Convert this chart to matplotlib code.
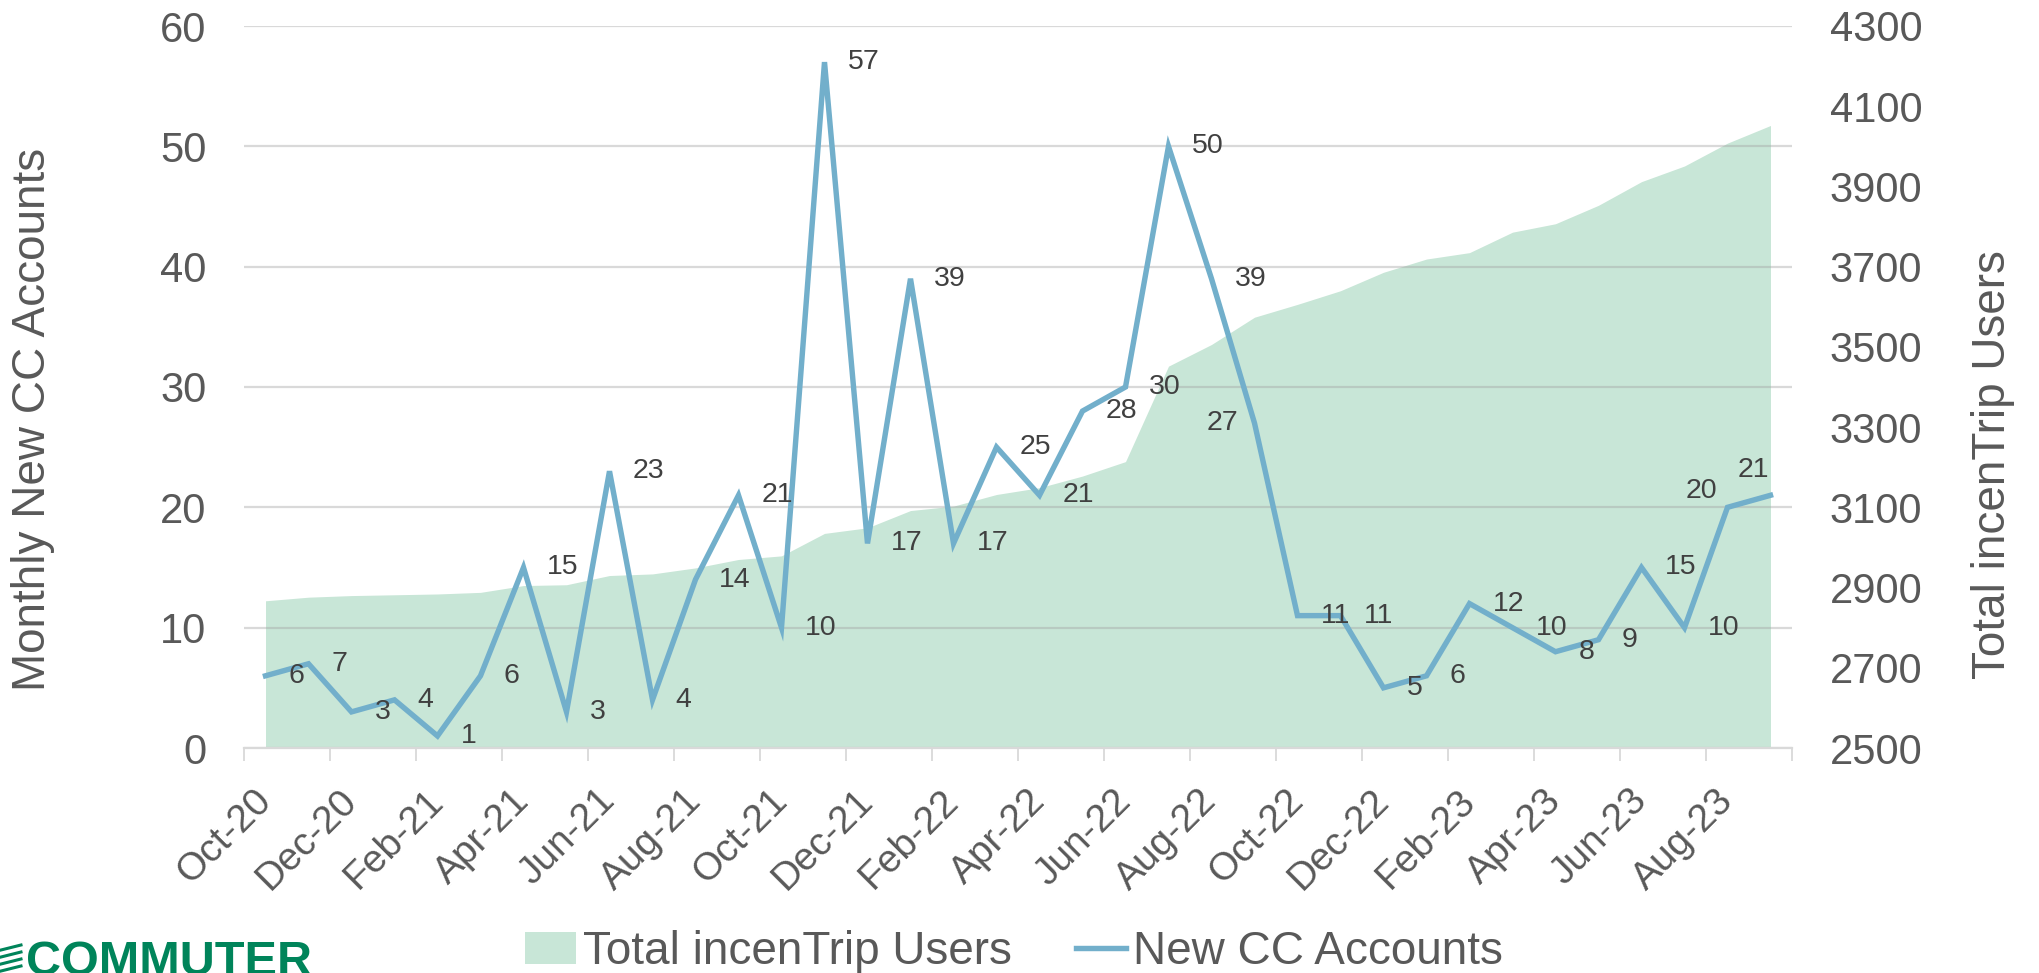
import numpy as np
import matplotlib
matplotlib.use("Agg")
import matplotlib.pyplot as plt
from matplotlib.patches import Patch
from matplotlib.lines import Line2D

# ---- data ----
months = ["Oct-20", "Nov-20", "Dec-20", "Jan-21", "Feb-21", "Mar-21", "Apr-21", "May-21",
          "Jun-21", "Jul-21", "Aug-21", "Sep-21", "Oct-21", "Nov-21", "Dec-21", "Jan-22",
          "Feb-22", "Mar-22", "Apr-22", "May-22", "Jun-22", "Jul-22", "Aug-22", "Sep-22",
          "Oct-22", "Nov-22", "Dec-22", "Jan-23", "Feb-23", "Mar-23", "Apr-23", "May-23",
          "Jun-23", "Jul-23", "Aug-23", "Sep-23"]
new_cc_accounts = [6, 7, 3, 4, 1, 6, 15, 3, 23, 4, 14, 21, 10, 57, 17, 39, 17, 25, 21, 28,
                   30, 50, 39, 27, 11, 11, 5, 6, 12, 10, 8, 9, 15, 10, 20, 21]
total_users = [2867, 2876, 2880, 2882, 2884, 2888, 2905, 2907, 2930, 2934, 2949, 2970,
               2979, 3035, 3049, 3092, 3103, 3132, 3149, 3178, 3214, 3452, 3506, 3574,
               3606, 3640, 3686, 3719, 3735, 3786, 3807, 3853, 3912, 3951, 4008, 4052]
left_ticks = [0, 10, 20, 30, 40, 50, 60]
right_ticks = [2500, 2700, 2900, 3100, 3300, 3500, 3700, 3900, 4100, 4300]

LINE_C = "#72AFCB"
AREA_C = "#C8E6D7"
TXT_C = "#595959"
LBL_C = "#404040"
GRID_C = "#D9D9D9"
FONT = ["Liberation Sans", "DejaVu Sans"]
plt.rcParams["font.family"] = FONT

W, H, DPI = 2039, 973, 100
fig = plt.figure(figsize=(W / DPI, H / DPI), dpi=DPI)
L, R, T, B = 244, 1792, 26, 748
ax = fig.add_axes([L / W, 1 - B / H, (R - L) / W, (B - T) / H])
ax2 = ax.twinx()
ax.set_zorder(2)
ax2.set_zorder(1)
ax.patch.set_visible(False)

x = np.arange(len(months))

# area (secondary axis)
ax2.fill_between(x, right_ticks[0], total_users, color=AREA_C, lw=0)
ax2.set_ylim(right_ticks[0], right_ticks[-1])
ax2.set_yticks(right_ticks)
ax2.tick_params(axis="y", length=0, pad=27, labelsize=30, labelcolor=TXT_C)
for s in ax2.spines.values():
    s.set_visible(False)

# line (primary axis)
ax.plot(x, new_cc_accounts, color=LINE_C, lw=3.9, solid_joinstyle="miter", zorder=3)
ax.set_ylim(left_ticks[0], left_ticks[-1])
ax.set_yticks(left_ticks)
ax.set_xlim(-0.5, len(months) - 0.5)
ax.grid(axis="y", color="#A2A2A2", alpha=0.4, lw=1.6)
ax.set_axisbelow(True)
ax.tick_params(axis="y", length=0, pad=27, labelsize=30, labelcolor=TXT_C)
for k in ["left", "right", "top"]:
    ax.spines[k].set_visible(False)
ax.spines["bottom"].set_color(GRID_C)
ax.spines["bottom"].set_linewidth(1.6)

# x ticks: boundaries every 2 months, labels every 2 months
ax.set_xticks(np.arange(-0.5, len(months), 2))
ax.set_xticklabels([])
ax.tick_params(axis="x", which="major", length=9.4, width=1.3, color=GRID_C)
ax.set_xticks(x[::2], minor=True)
ax.set_xticklabels(months[::2], minor=True)
ax.tick_params(axis="x", which="minor", length=0, pad=34, labelsize=28,
               labelcolor=TXT_C, labelrotation=45)
for lab in ax.get_xticklabels(minor=True):
    lab.set_ha("right")
    lab.set_va("center")
    lab.set_rotation_mode("anchor")
    lab.set_fontsize(28)

# data labels
special = {23: (-16, 0, "right", "center"),
           34: (-26, 16, "center", "center"),
           35: (-17, 25, "center", "center")}
for i, v in enumerate(new_cc_accounts):
    dx, dy, ha, va = special.get(i, (23, 0, "left", "center"))
    ax.annotate(str(v), (i, v), xytext=(dx, dy), textcoords="offset pixels",
                ha=ha, va=va, fontsize=20.5, color=LBL_C, zorder=5)

# axis titles
fig.text(33 / W, 1 - 419 / H, "Monthly New CC Accounts", rotation=90, ha="center",
         va="center", fontsize=33, color=TXT_C)
fig.text(1993 / W, 1 - 465 / H, "Total incenTrip Users", rotation=90, ha="center",
         va="center", fontsize=33, color=TXT_C)

# legend
handles = [Patch(facecolor=AREA_C, edgecolor="none"),
           Line2D([0], [0], color=LINE_C, lw=3.9)]
fig.legend(handles, ["Total incenTrip Users", "New CC Accounts"], loc="center",
           bbox_to_anchor=(1014 / W, 1 - 952 / H), ncol=2, frameon=False,
           fontsize=33, labelcolor=TXT_C, handlelength=1.1, handleheight=0.72,
           handletextpad=0.15, columnspacing=1.4, borderpad=0, borderaxespad=0)

# logo (partially cut at bottom)
fig.text(26 / W, 1 - 940 / H, "COMMUTER", ha="left", va="top", fontsize=35,
         fontweight="bold", color="#00845A")
for k in range(4):
    yy = 1 - (950 + k * 7) / H
    fig.add_artist(Line2D([1 / W, 21 / W], [yy, yy + 5 / H], color="#00845A", lw=2.2,
                          transform=fig.transFigure))

fig.savefig("out.png", dpi=DPI)
